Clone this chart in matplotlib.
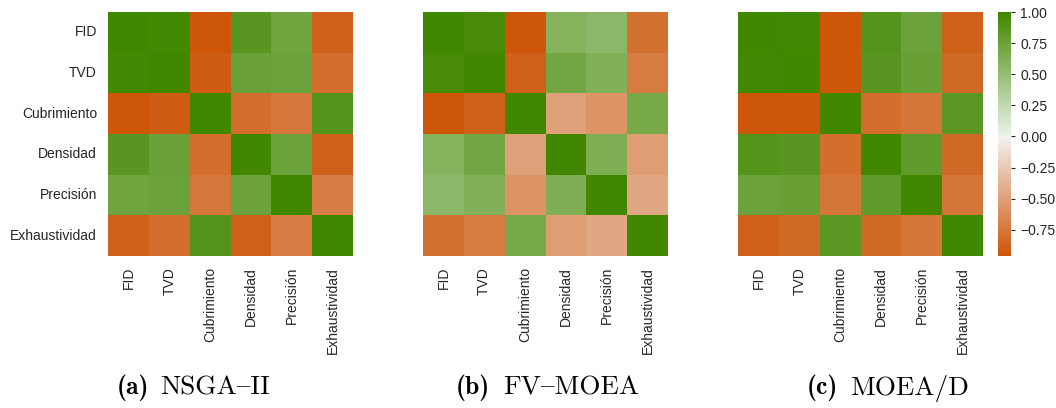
import matplotlib
matplotlib.use("Agg")
import matplotlib.pyplot as plt
import numpy as np
import seaborn as sns
from seaborn.external import husl

plt.rcParams['font.family'] = ['Liberation Sans', 'DejaVu Sans']
plt.rcParams['text.color'] = '#262626'
plt.rcParams['xtick.color'] = '#262626'
plt.rcParams['ytick.color'] = '#262626'

metricas = ['FID', 'TVD', 'Cubrimiento', 'Densidad', 'Precisión', 'Exhaustividad']

# matrices de correlación por algoritmo
nsga2 = [[1.00, 0.97, -0.96, 0.85, 0.73, -0.88],
         [0.97, 1.00, -0.92, 0.76, 0.74, -0.80],
         [-0.96, -0.92, 1.00, -0.80, -0.75, 0.87],
         [0.85, 0.76, -0.80, 1.00, 0.74, -0.89],
         [0.73, 0.74, -0.75, 0.74, 1.00, -0.70],
         [-0.88, -0.80, 0.87, -0.89, -0.70, 1.00]]

fvmoea = [[1.00, 0.95, -0.96, 0.60, 0.55, -0.79],
          [0.95, 1.00, -0.89, 0.71, 0.62, -0.72],
          [-0.96, -0.89, 1.00, -0.50, -0.57, 0.68],
          [0.60, 0.71, -0.50, 1.00, 0.64, -0.52],
          [0.55, 0.62, -0.57, 0.64, 1.00, -0.46],
          [-0.79, -0.72, 0.68, -0.52, -0.46, 1.00]]

moead = [[1.00, 0.98, -0.96, 0.87, 0.74, -0.89],
         [0.98, 1.00, -0.96, 0.85, 0.77, -0.83],
         [-0.96, -0.96, 1.00, -0.80, -0.76, 0.84],
         [0.87, 0.85, -0.80, 1.00, 0.81, -0.83],
         [0.74, 0.77, -0.76, 0.81, 1.00, -0.76],
         [-0.89, -0.83, 0.84, -0.83, -0.76, 1.00]]

# en cmr10 el guion medio está en la posición de '{'
letras = ['(a)', '(b)', '(c)']
nombres = ['NSGA{II', 'FV{MOEA', 'MOEA/D']

h_neg = husl.hex_to_husl('#cc5000')[0]
h_pos = husl.hex_to_husl('#408500')[0]
cmap = sns.diverging_palette(h_neg, h_pos, s=100, l=50, as_cmap=True)

W, H = 1056, 408
fig = plt.figure(figsize=(W / 100, H / 100), dpi=100)

izq = [108, 423, 738]
x_letra = [117, 456, 807]
x_nombre = [160, 503, 850]
vmin = min(np.min(nsga2), np.min(fvmoea), np.min(moead))

cax = fig.add_axes([998 / W, 1 - 256 / H, 13 / W, 244 / H])
for i, datos in enumerate([nsga2, fvmoea, moead]):
    ax = fig.add_axes([izq[i] / W, 1 - 256 / H, 245 / W, 244 / H])
    sns.heatmap(np.array(datos), ax=ax, cmap=cmap, center=0, vmin=vmin, vmax=1,
                xticklabels=metricas, yticklabels=metricas if i == 0 else False,
                cbar=(i == 2), cbar_ax=cax if i == 2 else None)
    ax.tick_params(length=0, labelsize=10, pad=8)
    ax.set_xticklabels(metricas, rotation=90)
    if i == 0:
        ax.set_yticklabels(metricas, rotation=0)
    fig.text(x_letra[i] / W, 1 - 388 / H, letras[i], ha='left', va='center',
             fontsize=18.5, family='cmb10', color='black')
    fig.text(x_nombre[i] / W, 1 - 388 / H, nombres[i], ha='left', va='center',
             fontsize=19.5, family='cmr10', color='black')

cax.tick_params(labelsize=10, length=3, width=0.8)
for s in cax.spines.values():
    s.set_visible(False)

fig.savefig('out.png', dpi=100)
